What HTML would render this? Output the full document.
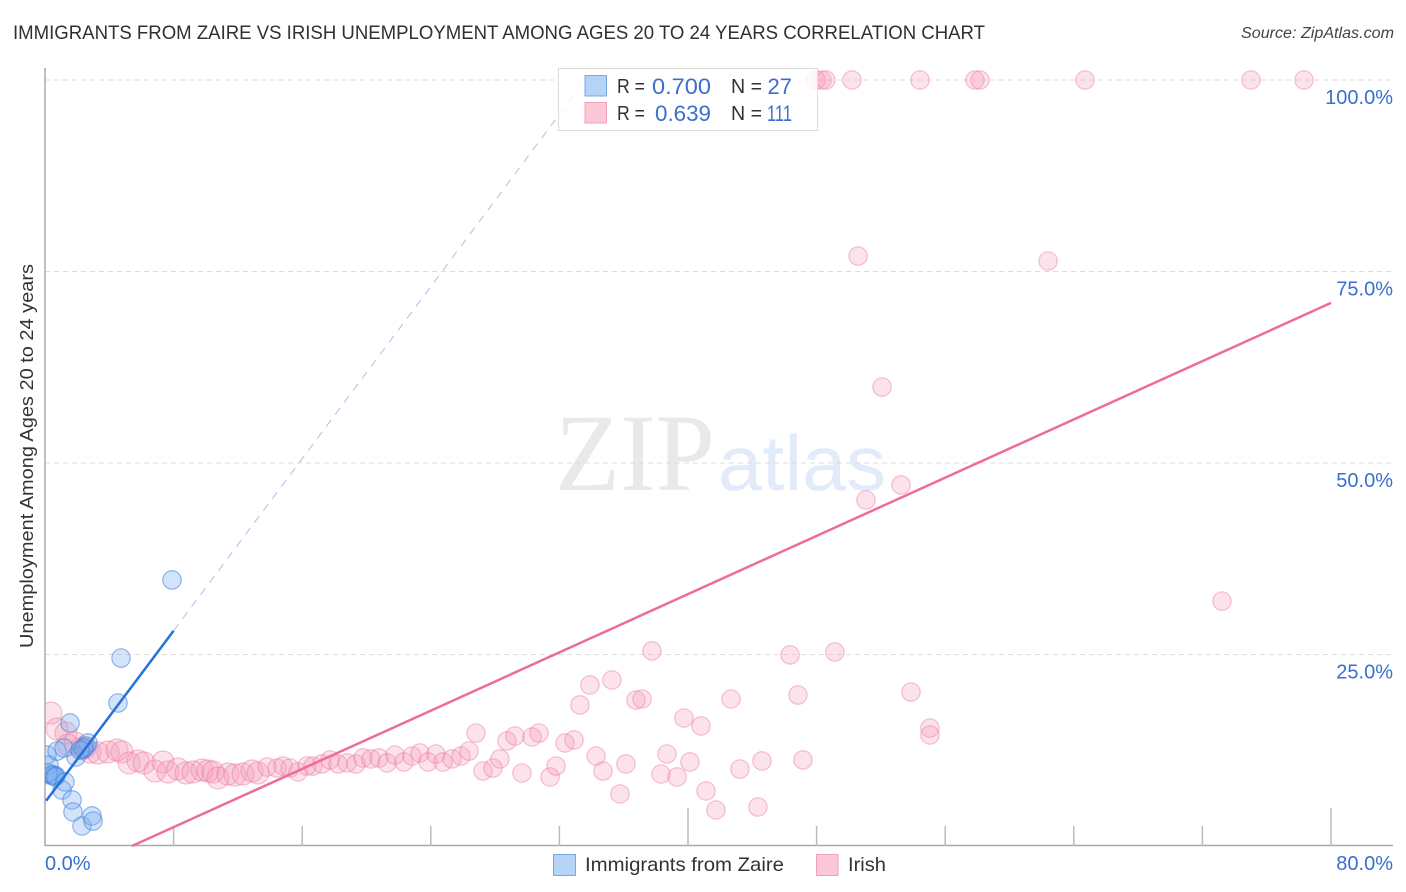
<!DOCTYPE html>
<html lang="en">
<head>
<meta charset="utf-8">
<title>Immigrants from Zaire vs Irish Unemployment Correlation Chart</title>
<style>
html,body{margin:0;padding:0;background:#fff;}
body{width:1406px;height:892px;overflow:hidden;}
svg{display:block;font-family:"Liberation Sans",sans-serif;}
</style>
</head>
<body>
<svg id="chart" width="1406" height="892" viewBox="0 0 1406 892" xmlns="http://www.w3.org/2000/svg">
  <defs><clipPath id="plot-clip"><rect x="45" y="60" width="1350" height="786"/></clipPath></defs>
  <rect x="0" y="0" width="1406" height="892" fill="#fff"/>
  <text x="13" y="39" font-size="19" fill="#2f2f38" textLength="972" lengthAdjust="spacingAndGlyphs">IMMIGRANTS FROM ZAIRE VS IRISH UNEMPLOYMENT AMONG AGES 20 TO 24 YEARS CORRELATION CHART</text>
  <text x="1394" y="38" font-size="15.5" font-style="italic" fill="#444" text-anchor="end" textLength="153" lengthAdjust="spacingAndGlyphs">Source: ZipAtlas.com</text>
  <g>
    <text x="555" y="490" font-family="'Liberation Serif',serif" font-size="110" fill="#e9e9e9" textLength="160" lengthAdjust="spacingAndGlyphs">ZIP</text>
    <text x="718" y="490" font-size="78" fill="#e2ebf9" textLength="168" lengthAdjust="spacingAndGlyphs">atlas</text>
  </g>
  <g id="grid"></g>
  <g id="axes"></g>
  <g id="marks" clip-path="url(#plot-clip)"></g>
  <g id="trends"></g>
  <text transform="translate(33,456) rotate(-90)" font-size="18.5" fill="#333" text-anchor="middle" textLength="384" lengthAdjust="spacingAndGlyphs">Unemployment Among Ages 20 to 24 years</text>

  <g>
    <rect x="558.5" y="68.5" width="259" height="62" fill="#fff" fill-opacity="0.82" stroke="#dcdcdc" stroke-width="1"/>
    <rect x="585" y="75.5" width="21.5" height="20.5" fill="#b5d2f7" stroke="#78a9e4" stroke-width="1"/>
    <rect x="585" y="102.5" width="21.5" height="20.5" fill="#fcc8d9" stroke="#f0a0ba" stroke-width="1"/>
    <g font-size="20" fill="#333">
      <text x="617" y="93" textLength="28" lengthAdjust="spacingAndGlyphs">R =</text>
      <text x="617" y="120" textLength="28" lengthAdjust="spacingAndGlyphs">R =</text>
      <text x="731" y="93" textLength="31" lengthAdjust="spacingAndGlyphs">N =</text>
      <text x="731" y="120" textLength="31" lengthAdjust="spacingAndGlyphs">N =</text>
    </g>
    <g font-size="22" fill="#3a6fd0">
      <text x="711" y="94" text-anchor="end" textLength="59" lengthAdjust="spacingAndGlyphs">0.700</text>
      <text x="711" y="121" text-anchor="end" textLength="56" lengthAdjust="spacingAndGlyphs">0.639</text>
      <text x="792" y="94" text-anchor="end">27</text>
      <text x="792" y="121" text-anchor="end" textLength="25" lengthAdjust="spacingAndGlyphs">111</text>
    </g>
  </g>

  <g>
    <rect x="553.5" y="854.5" width="22" height="21" fill="#b5d2f7" stroke="#78a9e4" stroke-width="1"/>
    <text x="585" y="871" font-size="19.5" fill="#333" textLength="199" lengthAdjust="spacingAndGlyphs">Immigrants from Zaire</text>
    <rect x="816.5" y="854.5" width="21.5" height="21" fill="#fcc8d9" stroke="#f0a0ba" stroke-width="1"/>
    <text x="848" y="871" font-size="19.5" fill="#333" textLength="38" lengthAdjust="spacingAndGlyphs">Irish</text>
  </g>
</svg>
<script>
// ---- chart data (percent values) ----
const xDomain = [0, 80];
const yDomain = [0, 100];
const xTickValues = [8, 16, 24, 32, 40, 48, 56, 64, 72, 80];
const xMajorTicks = [40, 80];
const xEndLabels = ["0.0%", "80.0%"];
const yTickValues = [25, 50, 75, 100];
const yTickLabels = ["25.0%", "50.0%", "75.0%", "100.0%"];

const zaireX = [7.90,4.73,4.54,1.56,0.12,0.25,0.31,0.44,0.56,0.68,0.19,0.62,1.24,1.06,1.68,1.74,2.30,2.92,2.99,0.75,1.18,1.93,2.36,2.55,2.67,2.43,2.18];
const zaireY = [34.73,24.54,18.67,16.06,11.88,10.57,9.27,9.27,9.27,9.14,9.53,9.01,8.36,7.31,6.01,4.44,2.61,3.92,3.26,12.40,12.79,11.62,12.66,13.05,13.45,12.79,12.53];

const irishDenseX = [0.37,0.75,1.31,1.43,1.87,2.30,2.49,2.80,3.30,3.92,4.48,4.79,5.23,5.79,6.16,6.84,7.34,7.65,8.27,8.77,9.21,9.77,10.14,10.45,10.76,11.38,11.82,12.32,12.88,13.25];
const irishDenseY = [17.36,15.27,14.75,13.19,13.45,12.79,12.79,12.27,12.14,12.27,12.53,12.27,10.84,11.10,10.84,9.79,10.97,9.66,10.05,9.53,9.66,9.92,9.79,9.66,8.88,9.40,9.27,9.40,9.79,9.53];

const irishX = [13.81,14.43,14.81,15.24,15.74,16.30,16.67,17.23,17.73,18.23,18.79,19.35,19.78,20.28,20.78,21.28,21.77,22.33,22.83,23.33,23.83,24.32,24.76,25.32,25.88,26.38,26.81,27.25,27.87,28.30,28.74,29.24,29.67,30.30,30.73,31.42,31.79,32.35,32.91,33.28,33.90,35.27,34.28,34.71,36.14,35.77,36.76,37.14,37.76,38.32,38.69,39.32,39.75,40.12,40.81,41.12,41.74,42.68,43.23,44.35,44.60,46.35,46.84,47.15,49.14,50.58,52.07,51.07,53.25,53.87,55.05,55.05,62.40,73.22,47.96,48.33,48.58,50.20,54.43,57.85,58.16,64.70,75.02,78.32];
const irishY = [10.31,10.18,10.44,10.18,9.66,10.44,10.44,10.71,11.23,10.71,10.84,10.71,11.49,11.36,11.49,10.84,11.88,10.97,11.75,12.14,10.97,12.01,10.97,11.36,11.75,12.40,14.75,9.79,10.18,11.36,13.71,14.36,9.53,14.23,14.75,9.01,10.44,13.45,13.84,18.41,21.02,21.67,11.75,9.79,10.71,6.79,19.06,19.19,25.46,9.40,12.01,9.01,16.71,10.97,15.67,7.18,4.70,19.19,10.05,5.09,11.10,24.94,19.71,11.23,25.33,77.02,59.92,45.17,47.13,20.10,15.40,14.49,76.37,31.98,100,100,100,100,100,100,100,100,100,100];

const zaireTrendX = [0.07, 8.0];
const zaireTrendY = [5.9, 28.1];
const zaireDashX = [8.0, 33.6];
const zaireDashY = [28.1, 100];
const irishTrendX = [5.41, 80];
const irishTrendY = [0, 70.9];

// ---- axis functions ----
const SVG_NS = "http://www.w3.org/2000/svg";
const plotLeft = 45, plotRight = 1331, plotTop = 80, plotBottom = 846;
function xScale(v){ return plotLeft + (v - xDomain[0]) / (xDomain[1] - xDomain[0]) * (plotRight - plotLeft); }
function yScale(v){ return plotBottom - (v - yDomain[0]) / (yDomain[1] - yDomain[0]) * (plotBottom - plotTop); }
function make(tag, attrs, parent){
  const el = document.createElementNS(SVG_NS, tag);
  for (const k in attrs) el.setAttribute(k, attrs[k]);
  parent.appendChild(el);
  return el;
}
const gridG = document.getElementById("grid");
const axesG = document.getElementById("axes");
const marksG = document.getElementById("marks");
const trendsG = document.getElementById("trends");

// gridlines and y tick labels
yTickValues.forEach(function(v, i){
  const line = make("line", {x1: plotLeft, x2: 1393, y1: yScale(v), y2: yScale(v), stroke: "#dcdcdc", "stroke-width": 1, "stroke-dasharray": "5 4"}, gridG);
  
  
  const label = make("text", {x: 1393, y: yScale(v) + 24, "text-anchor": "end", "font-size": 20, fill: "#3a6fd0"}, axesG);
  label.textContent = yTickLabels[i];
  
  
});

// axis lines
const yAxisLine = make("line", {x1: plotLeft, x2: plotLeft, y1: 68, y2: plotBottom, stroke: "#aaa", "stroke-width": 1.5}, axesG);


const xAxisLine = make("line", {x1: plotLeft, x2: 1393, y1: 845.5, y2: 845.5, stroke: "#aaa", "stroke-width": 1.5}, axesG);



// x ticks
xTickValues.forEach(function(v){
  const isMajor = xMajorTicks.indexOf(v) >= 0;
  const tick = make("line", {x1: xScale(v), x2: xScale(v), y1: isMajor ? 808 : 826, y2: plotBottom, stroke: "#bbb", "stroke-width": 1.5}, axesG);
  
  
});
const xLabelLeft = make("text", {x: 45, y: 870, "font-size": 20, fill: "#3a6fd0"}, axesG);
xLabelLeft.textContent = xEndLabels[0];


const xLabelRight = make("text", {x: 1393, y: 870, "font-size": 20, fill: "#3a6fd0", "text-anchor": "end"}, axesG);
xLabelRight.textContent = xEndLabels[1];



// points
const pinkStyle = {fill: "rgba(246,150,182,0.28)", stroke: "rgba(234,120,155,0.45)", "stroke-width": 1.2};
const blueStyle = {fill: "rgba(120,172,240,0.33)", stroke: "rgba(60,125,220,0.55)", "stroke-width": 1.2};
function drawPoints(xs, ys, r, style, name){
  xs.forEach(function(x, i){
    const c = make("circle", Object.assign({cx: xScale(x), cy: yScale(ys[i]), r: r}, style), marksG);
    
    
  });
}
drawPoints(irishDenseX, irishDenseY, 11, pinkStyle, 'irish-point');
drawPoints(irishX, irishY, 9.2, pinkStyle, 'irish-point');
drawPoints(zaireX, zaireY, 9.2, blueStyle, 'zaire-point');

// trend lines
const irishLine = make("line", {x1: xScale(irishTrendX[0]), y1: yScale(irishTrendY[0]), x2: xScale(irishTrendX[1]), y2: yScale(irishTrendY[1]), stroke: "#ee6c9b", "stroke-width": 2.5}, trendsG);


const zaireLine = make("line", {x1: xScale(zaireTrendX[0]), y1: yScale(zaireTrendY[0]), x2: xScale(zaireTrendX[1]), y2: yScale(zaireTrendY[1]), stroke: "#2472da", "stroke-width": 2.5}, trendsG);


const zaireDash = make("line", {x1: xScale(zaireDashX[0]), y1: yScale(zaireDashY[0]), x2: xScale(zaireDashX[1]), y2: yScale(zaireDashY[1]), stroke: "#a6c3ea", "stroke-width": 1, "stroke-dasharray": "8 7"}, trendsG);


</script>
</body>
</html>
